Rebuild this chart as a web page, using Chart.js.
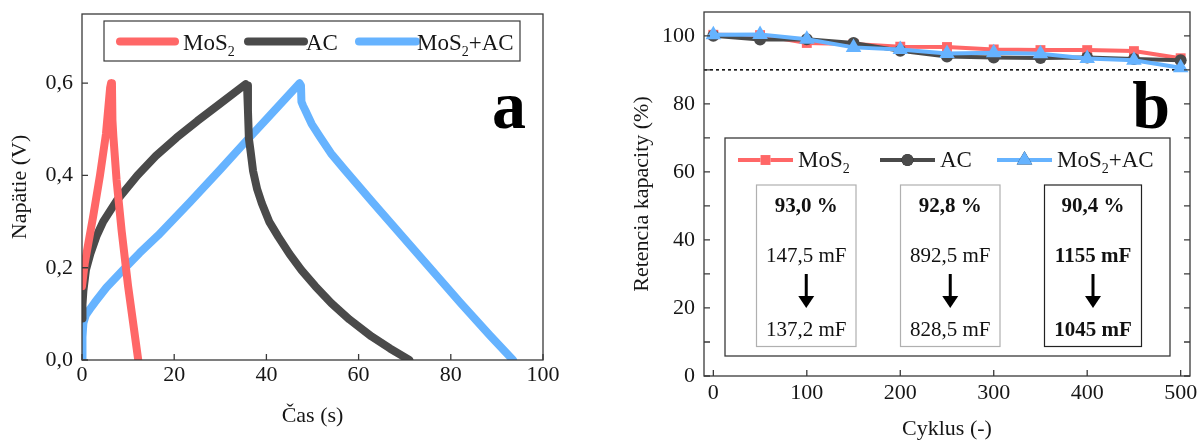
<!DOCTYPE html>
<html>
<head>
<meta charset="utf-8">
<script src="https://cdn.jsdelivr.net/npm/chart.js@4.4.1/dist/chart.umd.min.js"></script>
<style>
body{margin:0;background:#fff;}
#obal{position:relative;width:1199px;height:442px;overflow:hidden;}
canvas{position:absolute;top:0;}
#grafA{left:0;width:600px;height:442px;}
#grafB{left:600px;width:599px;height:442px;}
</style>
</head>
<body>
<div id="obal">
<canvas id="grafA" width="600" height="442"></canvas>
<canvas id="grafB" width="599" height="442"></canvas>
</div>
<script>
// (a) nabijanie / vybijanie
const mos2Cas = [0, 0.6, 2.4, 3.9, 5.2, 6.1, 6.3, 6.5, 6.6, 6.8, 7.5, 8.6, 10.0, 11.1, 12.2];
const mos2Nap = [0.16, 0.21, 0.31, 0.40, 0.49, 0.59, 0.60, 0.595, 0.52, 0.485, 0.39, 0.28, 0.16, 0.08, 0.0];
const acCas = [0, 0.1, 0.3, 0.85, 1.8, 3.2, 4.6, 7.5, 12, 16, 20.5, 25, 30, 35.5, 35.8, 36.0, 36.2, 36.6, 37.1, 38.0, 39.0, 40.6, 42.6, 45.0, 47.6, 50.6, 54.1, 58.0, 62.8, 66.8, 71.0];
const acNap = [0.09, 0.12, 0.15, 0.195, 0.23, 0.27, 0.30, 0.345, 0.40, 0.442, 0.482, 0.518, 0.556, 0.598, 0.595, 0.54, 0.48, 0.45, 0.41, 0.37, 0.34, 0.30, 0.267, 0.23, 0.195, 0.16, 0.123, 0.088, 0.051, 0.025, 0.0];
const mixCas = [0, 0.1, 0.3, 0.8, 1.7, 2.8, 5.3, 8.9, 12.5, 16.5, 23.4, 30, 35, 40, 47.2, 47.5, 47.6, 48.0, 48.4, 49.8, 51.6, 54.0, 57.0, 63.2, 69.5, 75.8, 82.0, 88.5, 93.5];
const mixNap = [0, 0.05, 0.08, 0.097, 0.11, 0.125, 0.157, 0.195, 0.232, 0.27, 0.342, 0.413, 0.468, 0.522, 0.60, 0.595, 0.56, 0.55, 0.542, 0.512, 0.484, 0.448, 0.412, 0.34, 0.268, 0.196, 0.125, 0.053, 0.0];
const casTicky = [0, 20, 40, 60, 80, 100];
const napTicky = [0, 0.2, 0.4, 0.6];

// (b) retencia
const cykly = [0, 50, 100, 150, 200, 250, 300, 350, 400, 450, 500];
const retMoS2 = [100.3, 100.2, 97.9, 97.6, 96.8, 96.7, 96.0, 95.8, 95.8, 95.5, 93.4];
const retAC = [100.0, 98.9, 99.0, 97.9, 95.6, 93.9, 93.6, 93.5, 93.6, 93.2, 92.8];
const retMix = [100.3, 100.4, 99.0, 96.6, 96.0, 94.8, 95.0, 94.7, 93.3, 92.8, 90.6];
const hranica = 90;
const cyklTicky = [0, 100, 200, 300, 400, 500];
const retTicky = [0, 10, 20, 30, 40, 50, 60, 70, 80, 90, 100];

const nazvy = [["MoS", "2", ""], ["AC", "", ""], ["MoS", "2", "+AC"]];
const boxy = [
  {pct: "93,0 %", od: "147,5 mF", do: "137,2 mF", tucne: false},
  {pct: "92,8 %", od: "892,5 mF", do: "828,5 mF", tucne: false},
  {pct: "90,4 %", od: "1155 mF", do: "1045 mF", tucne: true}
];

const cervena = "#ff6767", cierna = "#4a4a4a", modra = "#66b3ff";
const pismo = "'Liberation Serif', 'Times New Roman', serif";
const farbaTextu = "#161616";

const body = (xs, ys) => xs.map((x, i) => ({x, y: ys[i]}));

function popis(ctx, x, y, casti, velkost) {
  // text s dolnym indexom
  ctx.textAlign = "left";
  ctx.textBaseline = "alphabetic";
  ctx.font = velkost + "px " + pismo;
  ctx.fillText(casti[0], x, y);
  x += ctx.measureText(casti[0]).width;
  if (casti[1]) {
    ctx.font = Math.round(velkost * 0.62) + "px " + pismo;
    ctx.fillText(casti[1], x, y + 6);
    x += ctx.measureText(casti[1]).width;
    ctx.font = velkost + "px " + pismo;
  }
  if (casti[2]) ctx.fillText(casti[2], x, y);
}

function ramAticky(chart, xt, yt, dlzka, vpravo) {
  const {ctx, chartArea: a, scales} = chart;
  ctx.save();
  ctx.strokeStyle = "#3a3a3a";
  ctx.lineWidth = 1.3;
  ctx.strokeRect(a.left, a.top, a.width, a.height);
  ctx.beginPath();
  xt.forEach(v => {
    const px = scales.x.getPixelForValue(v);
    ctx.moveTo(px, a.bottom); ctx.lineTo(px, a.bottom - dlzka);
  });
  yt.forEach(v => {
    const py = scales.y.getPixelForValue(v);
    ctx.moveTo(a.left, py); ctx.lineTo(a.left + dlzka, py);
    if (vpravo) { ctx.moveTo(a.right, py); ctx.lineTo(a.right - dlzka, py); }
  });
  ctx.stroke();
  ctx.restore();
}

// bez automatickych okrajov od popisov
function pevnaVyska(h) {
  return s => { s.height = h; s.paddingLeft = 0; s.paddingRight = 0; s.paddingTop = 0; s.paddingBottom = 0; };
}
function pevnaSirka(w) {
  return s => { s.width = w; s.paddingLeft = 0; s.paddingRight = 0; s.paddingTop = 0; s.paddingBottom = 0; };
}

const dopisA = {
  id: "dopisA",
  afterDatasetsDraw(chart) {
    const ctx = chart.ctx;
    ramAticky(chart, casTicky, napTicky, 6, false);
    ctx.save();
    ctx.strokeStyle = "#3a3a3a"; ctx.lineWidth = 1.2;
    ctx.strokeRect(104, 21, 416, 40);
    const farby = [cervena, cierna, modra];
    const ciary = [[120, 175, 183], [248, 304, 306], [359, 416, 417]];
    ciary.forEach((c, i) => {
      ctx.strokeStyle = farby[i]; ctx.lineWidth = 8; ctx.lineCap = "round";
      ctx.beginPath(); ctx.moveTo(c[0], 41.5); ctx.lineTo(c[1], 41.5); ctx.stroke();
      ctx.fillStyle = farbaTextu;
      popis(ctx, c[2], 50, nazvy[i], 23);
    });
    ctx.fillStyle = "#000";
    ctx.font = "bold 68px " + pismo;
    ctx.textAlign = "right";
    ctx.fillText("a", 526, 128);
    ctx.restore();
  }
};

function sipka(ctx, x, y1, y2) {
  ctx.beginPath();
  ctx.lineWidth = 3; ctx.strokeStyle = "#000";
  ctx.moveTo(x, y1); ctx.lineTo(x, y2 - 10); ctx.stroke();
  ctx.beginPath();
  ctx.moveTo(x - 8, y2 - 12); ctx.lineTo(x + 8, y2 - 12); ctx.lineTo(x, y2);
  ctx.closePath(); ctx.fill();
}

const dopisB = {
  id: "dopisB",
  afterDatasetsDraw(chart) {
    const ctx = chart.ctx;
    ramAticky(chart, cyklTicky, retTicky, 6, true);
    ctx.save();
    ctx.fillStyle = "#000";
    ctx.font = "bold 68px " + pismo;
    ctx.textAlign = "right";
    ctx.fillText("b", 570, 128);

    ctx.fillStyle = "#fff";
    ctx.fillRect(125, 138, 445, 218);
    ctx.strokeStyle = "#3a3a3a"; ctx.lineWidth = 1.3;
    ctx.strokeRect(125, 138, 445, 218);

    const sady = chart.data.datasets;
    const polozky = [[138, 193, 198], [280, 335, 340], [397, 452, 457]];
    polozky.forEach((p, i) => {
      const d = sady[i];
      ctx.strokeStyle = d.borderColor; ctx.lineWidth = 4; ctx.lineCap = "butt";
      ctx.beginPath(); ctx.moveTo(p[0], 160); ctx.lineTo(p[1], 160); ctx.stroke();
      Chart.helpers.drawPoint(ctx, {pointStyle: d.pointStyle, radius: d.pointRadius, rotation: 0, borderWidth: 0}, (p[0] + p[1]) / 2, 160);
      ctx.fillStyle = d.borderColor;
      ctx.fill();
      ctx.fillStyle = farbaTextu;
      popis(ctx, p[2], 167, nazvy[i], 23);
    });

    const stlpce = [[156.5, 99.5], [300.5, 99.5], [444.5, 97]];
    boxy.forEach((b, i) => {
      const [x0, w] = stlpce[i];
      const cx = x0 + w / 2;
      ctx.strokeStyle = b.tucne ? "#222" : "#b0b0b0";
      ctx.lineWidth = 1.2;
      ctx.strokeRect(x0, 185, w, 161.5);
      ctx.fillStyle = "#111";
      ctx.textAlign = "center";
      ctx.textBaseline = "alphabetic";
      ctx.font = "bold 21px " + pismo;
      ctx.fillText(b.pct, cx, 212);
      ctx.font = (b.tucne ? "bold " : "") + "21px " + pismo;
      ctx.fillText(b.od, cx, 262);
      ctx.fillText(b.do, cx, 336);
      ctx.fillStyle = "#000";
      sipka(ctx, cx, 274, 308);
    });
    ctx.restore();
  }
};

const tickFont = {family: pismo, size: 22};
const carka = v => v.toFixed(1).replace(".", ",");

new Chart(document.getElementById("grafA"), {
  type: "line",
  data: {
    datasets: [
      {label: "MoS2", data: body(mos2Cas, mos2Nap), borderColor: cervena},
      {label: "AC", data: body(acCas, acNap), borderColor: cierna},
      {label: "MoS2+AC", data: body(mixCas, mixNap), borderColor: modra}
    ]
  },
  options: {
    responsive: false, animation: false, devicePixelRatio: 1,
    layout: {padding: {top: 14, right: 57, left: 0, bottom: 0}},
    datasets: {line: {clip: 0}},
    elements: {
      point: {radius: 0},
      line: {tension: 0, borderWidth: 8, borderCapStyle: "round", borderJoinStyle: "round", fill: false}
    },
    plugins: {legend: {display: false}, tooltip: {enabled: false}},
    scales: {
      x: {
        type: "linear", min: 0, max: 100,
        ticks: {stepSize: 20, includeBounds: false, padding: 2, font: tickFont, color: farbaTextu, maxRotation: 0},
        grid: {display: false, drawTicks: false}, border: {display: false},
        title: {display: true, text: "Čas (s)", font: tickFont, color: farbaTextu, padding: {top: 0, bottom: 13}},
        afterFit: pevnaVyska(82)
      },
      y: {
        type: "linear", min: 0, max: 0.75,
        ticks: {stepSize: 0.2, includeBounds: false, padding: 9, font: tickFont, color: farbaTextu, callback: carka},
        grid: {display: false, drawTicks: false}, border: {display: false},
        title: {display: true, text: "Napätie (V)", font: tickFont, color: farbaTextu, padding: {top: 7, bottom: 0}},
        afterFit: pevnaSirka(82)
      }
    }
  },
  plugins: [dopisA]
});

new Chart(document.getElementById("grafB"), {
  type: "line",
  data: {
    datasets: [
      {label: "MoS2", data: body(cykly, retMoS2), borderColor: cervena, backgroundColor: cervena,
       pointStyle: "rect", pointRadius: 7, order: 3},
      {label: "AC", data: body(cykly, retAC), borderColor: cierna, backgroundColor: cierna,
       pointStyle: "circle", pointRadius: 6, order: 2},
      {label: "MoS2+AC", data: body(cykly, retMix), borderColor: modra, backgroundColor: modra,
       pointStyle: "triangle", pointRadius: 9, order: 1},
      {label: "90 %", data: [{x: -10, y: hranica}, {x: 510, y: hranica}], borderColor: "#111",
       borderWidth: 1.6, borderDash: [3, 3], pointRadius: 0, order: 4}
    ]
  },
  options: {
    responsive: false, animation: false, devicePixelRatio: 1,
    layout: {padding: {top: 12, right: 8, left: 0, bottom: 0}},
    datasets: {line: {clip: false}},
    elements: {
      point: {borderWidth: 0, hoverRadius: 0},
      line: {tension: 0, borderWidth: 4, fill: false}
    },
    plugins: {legend: {display: false}, tooltip: {enabled: false}},
    scales: {
      x: {
        type: "linear", min: -10, max: 510,
        ticks: {stepSize: 100, includeBounds: false, padding: 4, font: tickFont, color: farbaTextu, maxRotation: 0},
        grid: {display: false, drawTicks: false}, border: {display: false},
        title: {display: true, text: "Cyklus (-)", font: tickFont, color: farbaTextu, padding: {top: 0, bottom: 0}},
        afterFit: pevnaVyska(66)
      },
      y: {
        type: "linear", min: 0, max: 107,
        ticks: {stepSize: 20, includeBounds: false, padding: 9, font: tickFont, color: farbaTextu},
        grid: {display: false, drawTicks: false}, border: {display: false},
        title: {display: true, text: "Retencia kapacity (%)", font: tickFont, color: farbaTextu, padding: {top: 29, bottom: 0}},
        afterFit: pevnaSirka(104)
      }
    }
  },
  plugins: [dopisB]
});
</script>
</body>
</html>
